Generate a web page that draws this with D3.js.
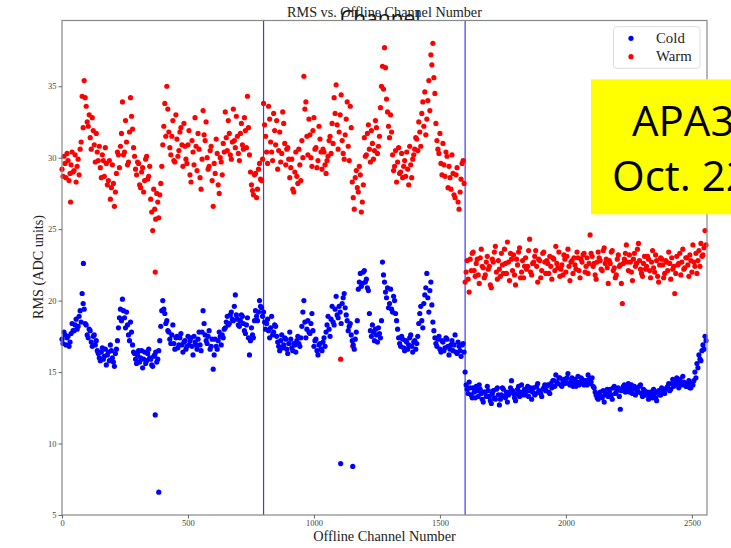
<!DOCTYPE html>
<html>
<head>
<meta charset="utf-8">
<script src="https://cdn.jsdelivr.net/npm/d3@7"></script>
<style>
  html, body { margin: 0; padding: 0; background: #fff; }
  svg { display: block; }
</style>
</head>
<body>
<svg id="chart" width="731" height="548"></svg>
<script>
// RMS per channel, every 8 channels (3 groups of channels),
// plus a second reading taken half way between (the "Mid" arrays)
const step = 8;
const segStart = [0, 800, 1600];

const coldSeg1 = [17.3,17.8,16.9,17.5,17.1, 18.4,17.9,18.7,18.2,19.3, 20.5,19.4,
  18.3,17.4,17.9,16.8,17.6,17.2,
  16.3,15.8,16.7,16.1,15.5,16.4,16.9,16.0,15.4,16.6,18.1,19.4,20.1,18.8,19.2,17.6,18.5,16.9,
  16.3,15.6,16.5,16.0,15.3,16.4,15.8,16.6,15.9,15.4,16.2,15.7,16.5,
  18.2,20.0,19.1,18.6, 17.8,17.0,18.3,16.6,17.5,16.9,17.7,16.4,17.2,16.8,
  16.9,17.4,16.2,17.1,16.6,17.8,16.5, 19.3,
  17.6,17.0,17.9,16.8,15.2,17.3,16.6,17.8,16.9,17.4,
  18.1,18.9,18.4,19.2,18.6,20.4, 18.7,18.2,19.0,18.4,17.7,18.8,16.2,18.1,17.4,
  19.3,18.6,20.0,19.5];
const coldMid1 = [17.0,17.6,17.4,16.8,17.7, 17.9,18.3,18.0,18.9,18.5, 19.8,18.4,
  17.6,18.0,17.1,17.5,16.9,16.5,
  16.0,16.4,15.9,16.6,16.2,15.8,16.5,15.7,16.3,17.2,18.8,18.6,19.3,18.1,18.3,17.2,17.8,16.4,
  15.9,16.2,15.7,16.5,15.9,15.6,16.3,16.0,15.5,16.1,16.4,15.9,17.2,
  19.3,19.4,18.4,17.9, 17.3,17.6,17.0,17.4,16.7,17.4,16.9,17.1,16.6,17.5,
  17.2,16.8,17.5,16.9,17.3,16.9,17.8, 18.4,
  17.2,17.5,16.6,17.3,16.2,16.8,17.2,17.5,17.6,18.0,
  18.5,18.3,19.0,18.7,19.6,19.0, 18.3,18.6,18.9,17.9,18.3,17.4,17.2,17.6,18.6,
  18.9,19.2,19.6,18.9];
const coldSeg2 = [19.2,18.0,18.7,17.4,18.9,17.8,18.2,
  17.1,16.5,17.6,16.9,17.3,16.3,17.8,16.7,17.0,16.4,17.5,16.8,
  18.2,20.0,17.4,18.6,17.7,19.1, 16.8,17.3,16.2,17.0,16.5,17.4,
  17.8,18.9,17.5,19.6,18.3,20.3,18.8,19.2,19.8,20.5, 19.0,17.9,18.4,
  17.2,16.6,17.8,20.8,21.9,21.2,22.1,21.5,20.7, 17.9,18.3,17.2,17.6,18.1,17.4,
  22.7,21.3,20.2,19.5,20.8,19.2,20.0,18.6,
  17.4,16.8,17.3,16.5,17.1,16.9,17.6,16.4,17.2,17.0,
  18.4,19.6,18.1,20.4,21.9,19.2,21.3,18.5,
  17.4,16.8,17.5,16.4,17.1,16.7,17.3,16.2,16.9,16.5,17.6,16.3,16.8,16.1,17.0];
const coldMid2 = [18.5,18.4,17.9,18.1,17.6,18.3,17.5,
  16.8,17.2,16.7,17.4,16.6,17.0,17.3,16.5,16.9,17.2,17.0,17.4,
  19.2,18.5,18.0,17.8,18.4,17.9, 17.2,16.5,16.9,16.6,17.1,16.8,
  18.3,18.0,18.7,18.5,19.4,19.0,19.6,18.4,20.2,19.5, 18.6,18.2,17.6,
  16.9,17.3,18.6,21.3,21.0,22.0,21.3,20.9,19.1, 17.5,17.8,18.0,17.1,17.7,18.6,
  21.8,20.6,20.9,19.8,19.4,20.3,19.1,18.0,
  17.0,17.5,16.7,17.2,16.6,17.4,16.8,17.1,16.6,17.5,
  19.1,18.6,19.8,20.9,20.2,20.7,19.7,17.9,
  17.0,17.3,16.6,17.2,16.5,17.4,16.8,16.6,17.2,16.9,16.4,17.1,16.5,16.9,16.4];
const coldSeg3 = [15.0,13.8,14.3,13.4,13.9,13.2,13.7,14.1,13.5,12.9,
  13.6,14.0,13.3,12.8,13.7,13.1,13.9,12.7,13.4,13.8,
  13.2,12.9,13.6,14.4,13.5,13.0,13.8,13.3,14.1,13.6,
  13.4,14.0,13.7,13.1,13.9,13.5,14.2,13.6,13.3,13.9,
  13.7,14.1,13.5,13.9,14.4,14.8,14.2,14.6,14.0,14.5,
  14.3,14.9,14.1,14.6,14.2,14.0,14.7,14.3,14.5,14.1,
  14.4,14.8,14.2,14.6,13.9,13.4,13.1,13.6,13.2,12.9,
  13.5,13.3,13.8,13.1,14.0,13.6,13.9,12.4,13.8,14.1,
  13.7,14.2,13.9,13.5,14.0,13.8,13.6,14.1,13.3,13.7,
  13.4,13.1,13.6,13.2,13.5,13.0,13.7,13.4,13.8,13.5,
  13.9,14.2,13.8,14.5,14.1,14.6,13.9,14.3,14.7,14.2,
  14.0,14.4,13.9,14.1,15.0,15.6,16.2,15.8,16.9,17.5];
const coldMid3 = [14.1,13.5,13.9,13.2,13.6,14.0,13.3,13.8,13.1,13.6,
  13.3,13.7,13.0,13.5,13.2,13.8,13.4,13.1,13.9,13.3,
  13.6,13.4,13.9,13.7,13.2,13.5,14.0,13.6,13.4,13.8,
  13.7,13.3,13.9,13.6,13.4,14.0,13.7,13.5,13.8,14.1,
  14.0,13.6,14.2,14.4,14.0,14.3,14.6,14.1,14.4,14.2,
  14.6,14.2,14.4,14.0,14.5,14.3,14.1,14.6,14.2,14.4,
  14.1,14.5,14.3,14.0,13.6,13.2,13.5,13.3,13.7,13.4,
  13.8,13.6,13.4,13.9,13.5,13.8,13.3,13.7,14.0,13.6,
  13.9,13.6,14.1,13.8,13.4,13.7,14.0,13.5,13.8,13.4,
  13.6,13.3,13.5,13.8,13.2,13.6,13.4,13.9,13.6,13.8,
  14.0,13.7,14.2,14.0,14.4,14.2,14.5,14.1,14.3,14.0,
  14.2,13.9,14.2,14.4,14.6,15.3,15.9,16.5,16.6,17.2];

const warmSeg1 = [29.2,30.1,28.6,29.8,28.9,30.4,29.1,28.3,29.9,30.6, 34.3,35.4,
  33.6,32.2,31.4,32.8,30.9,31.7,29.8, 29.3,30.2,28.7,29.6,
  28.4,27.1,29.5,26.6,28.9,30.2, 30.8,33.9,30.4,31.1,29.7,34.2,32.0,30.1,
  28.8,29.6,27.9,29.3,28.4,30.1,28.7, 27.1,24.9,26.4,27.5,25.8,
  28.2,30.9,33.8, 35.0, 31.8,30.2,32.6,29.7,31.3,30.5,32.1,29.4,30.8,
  29.6,31.9,28.3,30.4,32.8,29.1,30.6,27.8, 33.3,31.2,30.0,
  29.4,30.8,26.6,28.9,30.3,27.5,29.7,31.0, 33.2,30.5,31.7,29.9,
  33.4,30.7,31.5,29.8,32.4,30.6, 31.9,34.3,30.2, 28.1,27.4,28.9,27.8,29.6,28.4];
const warmMid1 = [28.7,29.6,30.3,28.4,29.5,29.0,30.2,29.4,28.8,31.1, 32.1,34.2,
  32.5,33.0,30.6,31.9,29.7,30.4,30.8, 28.6,29.8,30.7,28.1,
  29.8,27.9,28.2,27.6,30.4,29.3, 31.7,30.2,32.6,29.5,31.8,32.9,30.7,29.2,
  29.7,28.1,29.0,27.6,29.9,28.5,29.4, 26.2,27.8,25.7,26.9,27.4,
  29.4,32.2,31.5, 33.4, 30.7,31.5,29.8,33.0,30.1,31.8,30.9,32.4,29.9,
  30.9,28.8,31.2,29.5,30.8,31.7,28.6,29.9, 31.6,32.5,29.2,
  30.5,28.4,29.6,31.3,28.1,30.0,28.8,30.4, 31.4,32.6,30.2,31.1,
  31.2,32.9,30.3,31.7,30.9,32.8, 30.7,32.1,29.0, 27.7,28.8,27.2,29.2,28.5,29.9];
const warmSeg2 = [33.8,31.5,29.6,32.7,30.4,33.1,30.9,29.2,31.8,30.3,32.4,29.5,30.7,
  28.6,29.9,27.6,30.4,28.2,29.5,31.2, 35.7,
  33.9,30.2,31.6,29.4,32.8,30.7,29.8,31.3, 29.2,30.4,28.9,30.1,31.5,
  32.4,34.2,35.1,30.6,33.0,31.2,29.9,32.7,30.8,33.6,
  28.3,26.4,29.1,27.6,28.8,26.9, 31.4,30.2,32.3,29.7,31.0,30.5,32.1,30.8,
  33.5,36.4,37.7,34.1,32.2,33.0,
  30.2,29.4,28.3,30.7,29.0,28.6,29.8,30.4,28.1,29.5,29.9,30.6,
  31.3,32.5,30.8,33.9,34.6,32.7,35.4, 37.2,38.0,
  34.5,31.2,30.3,29.6,31.0,28.7,30.1,29.4,27.8,28.9,27.2,29.3,26.4,28.5,29.8];
const warmMid2 = [32.3,30.4,33.6,31.1,29.8,31.9,32.6,30.5,29.7,33.2,31.0,30.6,29.9,
  29.3,27.8,29.0,28.7,30.6,28.4,30.0, 33.4,
  31.5,32.7,30.0,31.9,30.6,29.3,32.2,30.4, 30.6,29.5,29.8,31.2,30.3,
  31.0,33.1,32.3,31.8,34.4,30.3,31.6,33.9,29.8,32.1,
  27.2,28.6,27.9,29.4,26.2,28.1, 30.1,31.7,30.6,31.9,29.9,32.6,30.3,31.5,
  35.0,34.8,36.3,33.2,31.4,31.8,
  29.1,30.5,29.7,28.9,30.3,29.4,28.7,29.2,30.8,28.6,30.2,31.4,
  30.5,31.8,33.1,32.2,31.6,34.0,33.3, 36.5,35.6,
  32.4,30.6,31.7,28.8,29.5,30.4,27.9,28.6,30.2,27.4,28.8,26.9,27.6,29.6,28.2];
const warmSeg3 = [21.3,22.8,20.6,22.1,23.4,21.7,22.9,21.2,23.6,22.3,
  21.8,23.1,22.4,20.9,22.7,23.8,21.5,22.2,23.3,21.9,
  22.6,24.1,21.4,22.9,23.2,21.1,22.5,23.7,22.0,21.6,
  23.0,22.4,24.3,21.8,22.7,23.5,21.3,22.8,22.1,23.4,
  21.9,22.6,23.1,21.5,22.9,23.8,22.3,21.7,22.5,23.2,
  22.0,23.6,21.4,22.8,23.0,22.2,23.0,21.6,22.7,23.3,
  22.4,21.9,24.6,23.1,22.6,21.5,23.4,22.8,22.1,23.7,
  22.9,21.2,22.6,23.5,22.3,21.8,23.2,22.5,19.8,22.9,
  23.9,22.1,22.7,21.4,23.3,22.6,24.0,22.2,21.7,23.1,
  22.4,22.9,21.6,23.5,22.0,22.8,21.3,23.0,22.5,21.9,
  22.7,23.4,21.5,22.2,20.5,23.1,22.6,21.8,23.6,22.3,
  23.0,21.7,22.8,23.9,22.4,21.9,23.5,24.0,23.2,24.9];
const warmMid3 = [22.0,21.5,22.9,23.3,22.1,22.6,21.8,23.0,22.4,21.6,
  22.7,22.2,21.1,22.9,23.4,22.0,22.8,21.7,22.5,23.6,
  21.9,22.7,23.3,22.1,21.8,22.9,23.4,21.6,22.8,22.4,
  22.2,23.5,22.0,22.6,23.1,22.4,22.9,21.6,23.3,22.7,
  22.8,21.9,22.4,23.0,22.1,22.6,23.4,22.2,21.8,22.9,
  23.1,22.4,22.7,21.9,22.5,23.4,22.1,22.9,23.2,22.0,
  23.0,22.6,23.3,22.4,21.8,22.7,23.0,22.2,23.5,22.6,
  22.3,22.8,23.4,22.1,21.6,22.9,22.4,21.2,22.6,23.3,
  22.7,23.2,22.0,22.9,22.4,23.6,22.8,21.9,22.6,22.2,
  23.1,22.1,22.7,22.3,23.2,21.7,22.5,22.9,21.6,22.8,
  22.1,22.6,23.0,22.4,21.9,22.5,23.3,22.7,22.2,23.0,
  22.5,23.2,22.0,22.7,23.3,22.8,22.4,23.1,23.7,23.9];

// single odd channels
const coldOutCh = [85, 370, 384, 1106, 1154];
const coldOutVal = [22.6, 12.0, 6.6, 8.6, 8.4];
const warmOutCh = [34, 370, 1106, 1154];
const warmOutVal = [26.9, 22.0, 15.9, 16.8];

const xTicks = [0, 500, 1000, 1500, 2000, 2500];
const yTicks = [5, 10, 15, 20, 25, 30, 35];
const boundaries = [800, 1600];

const svg = d3.select("#chart");
const serif = "'Liberation Serif', 'Times New Roman', serif";

const margin = {left: 62, right: 707, top: 20.5, bottom: 515};
const x = d3.scaleLinear().domain([0, 2560]).range([margin.left, margin.right]);
const y = d3.scaleLinear().domain([5, 39.6]).range([margin.bottom, margin.top]);

function toPoints(segs, offset) {
  const pts = [];
  segs.forEach((vals, s) => vals.forEach((v, i) => pts.push({ch: segStart[s] + i * step + offset, v: v})));
  return pts;
}
const cold = toPoints([coldSeg1, coldSeg2, coldSeg3], 0)
  .concat(toPoints([coldMid1, coldMid2, coldMid3], step / 2))
  .concat(coldOutCh.map((c, i) => ({ch: c, v: coldOutVal[i]})));
const warm = toPoints([warmSeg1, warmSeg2, warmSeg3], 0)
  .concat(toPoints([warmMid1, warmMid2, warmMid3], step / 2))
  .concat(warmOutCh.map((c, i) => ({ch: c, v: warmOutVal[i]})));

// slide text behind the figure
svg.append("text")
  .attr("x", 340).attr("y", 26)
  .style("font-family", "'Open Sans', sans-serif")
  .style("font-size", "21px")
  .style("fill", "#111")
  .text("Channel");

// axes area
svg.append("rect")
  .attr("x", margin.left).attr("y", margin.top)
  .attr("width", margin.right - margin.left).attr("height", margin.bottom - margin.top)
  .style("fill", "#fff");

// vertical lines at the boundaries
svg.append("g").selectAll("line")
  .data(boundaries).enter().append("line")
  .attr("x1", d => x(d)).attr("x2", d => x(d))
  .attr("y1", margin.top).attr("y2", margin.bottom)
  .style("stroke", "#3a3aff").style("stroke-width", 1.2);

// points
const pts = svg.append("g");
pts.selectAll("circle.warm")
  .data(warm).enter().append("circle")
  .attr("class", "warm")
  .attr("cx", d => x(d.ch)).attr("cy", d => y(d.v))
  .attr("r", 2.6).style("fill", "#ff0000");
pts.selectAll("circle.cold")
  .data(cold).enter().append("circle")
  .attr("class", "cold")
  .attr("cx", d => x(d.ch)).attr("cy", d => y(d.v))
  .attr("r", 2.6).style("fill", "#0000ff");

// frame
svg.append("rect")
  .attr("x", margin.left).attr("y", margin.top)
  .attr("width", margin.right - margin.left).attr("height", margin.bottom - margin.top)
  .style("fill", "none").style("stroke", "#888").style("stroke-width", 1.2);

// axes
const xAxis = svg.append("g")
  .attr("transform", `translate(0,${margin.bottom})`)
  .call(d3.axisBottom(x).tickValues(xTicks).tickSize(3.5).tickPadding(1.5).tickFormat(d3.format("d")));
const yAxis = svg.append("g")
  .attr("transform", `translate(${margin.left},0)`)
  .call(d3.axisLeft(y).tickValues(yTicks).tickSize(3.5).tickPadding(2).tickFormat(d3.format("d")));
[xAxis, yAxis].forEach(g => {
  g.select(".domain").remove();
  g.selectAll(".tick line").style("stroke", "#666");
  g.selectAll(".tick text")
    .style("font-family", serif).style("font-size", "8.5px").style("fill", "#444");
});

// titles
svg.append("text")
  .attr("x", (margin.left + margin.right) / 2).attr("y", 17)
  .attr("text-anchor", "middle")
  .style("font-family", serif).style("font-size", "14.2px").style("fill", "#222")
  .text("RMS vs. Offline Channel Number");
svg.append("text")
  .attr("x", (margin.left + margin.right) / 2).attr("y", 540.5)
  .attr("text-anchor", "middle")
  .style("font-family", serif).style("font-size", "14.3px").style("fill", "#222")
  .text("Offline Channel Number");
svg.append("text")
  .attr("transform", "translate(43,267) rotate(-90)")
  .attr("text-anchor", "middle")
  .style("font-family", serif).style("font-size", "14.2px").style("fill", "#222")
  .text("RMS (ADC units)");

// legend
const legend = svg.append("g");
legend.append("rect")
  .attr("x", 613.5).attr("y", 26.7).attr("width", 86.5).attr("height", 41.6)
  .attr("rx", 3)
  .style("fill", "#fff").style("stroke", "#ddd").style("stroke-width", 1);
const legendItems = [{label: "Cold", color: "#0000ff"}, {label: "Warm", color: "#ff0000"}];
legendItems.forEach((d, i) => {
  legend.append("circle")
    .attr("cx", 631).attr("cy", 38.3 + i * 18.4).attr("r", 2.6)
    .style("fill", d.color);
  legend.append("text")
    .attr("x", 656).attr("y", 42.6 + i * 18.4)
    .style("font-family", serif).style("font-size", "14.8px").style("fill", "#222")
    .text(d.label);
});

// yellow slide label, runs off the right edge
svg.append("rect")
  .attr("x", 591).attr("y", 79.3).attr("width", 160).attr("height", 135)
  .style("fill", "#ffff00");
svg.append("text")
  .attr("x", 632).attr("y", 135.5)
  .style("font-family", "'Open Sans', sans-serif").style("font-size", "42px").style("fill", "#000")
  .text("APA3");
svg.append("text")
  .attr("x", 612).attr("y", 190.5)
  .style("font-family", "'Open Sans', sans-serif").style("font-size", "42px").style("fill", "#000")
  .text("Oct. 22");
</script>
</body>
</html>
